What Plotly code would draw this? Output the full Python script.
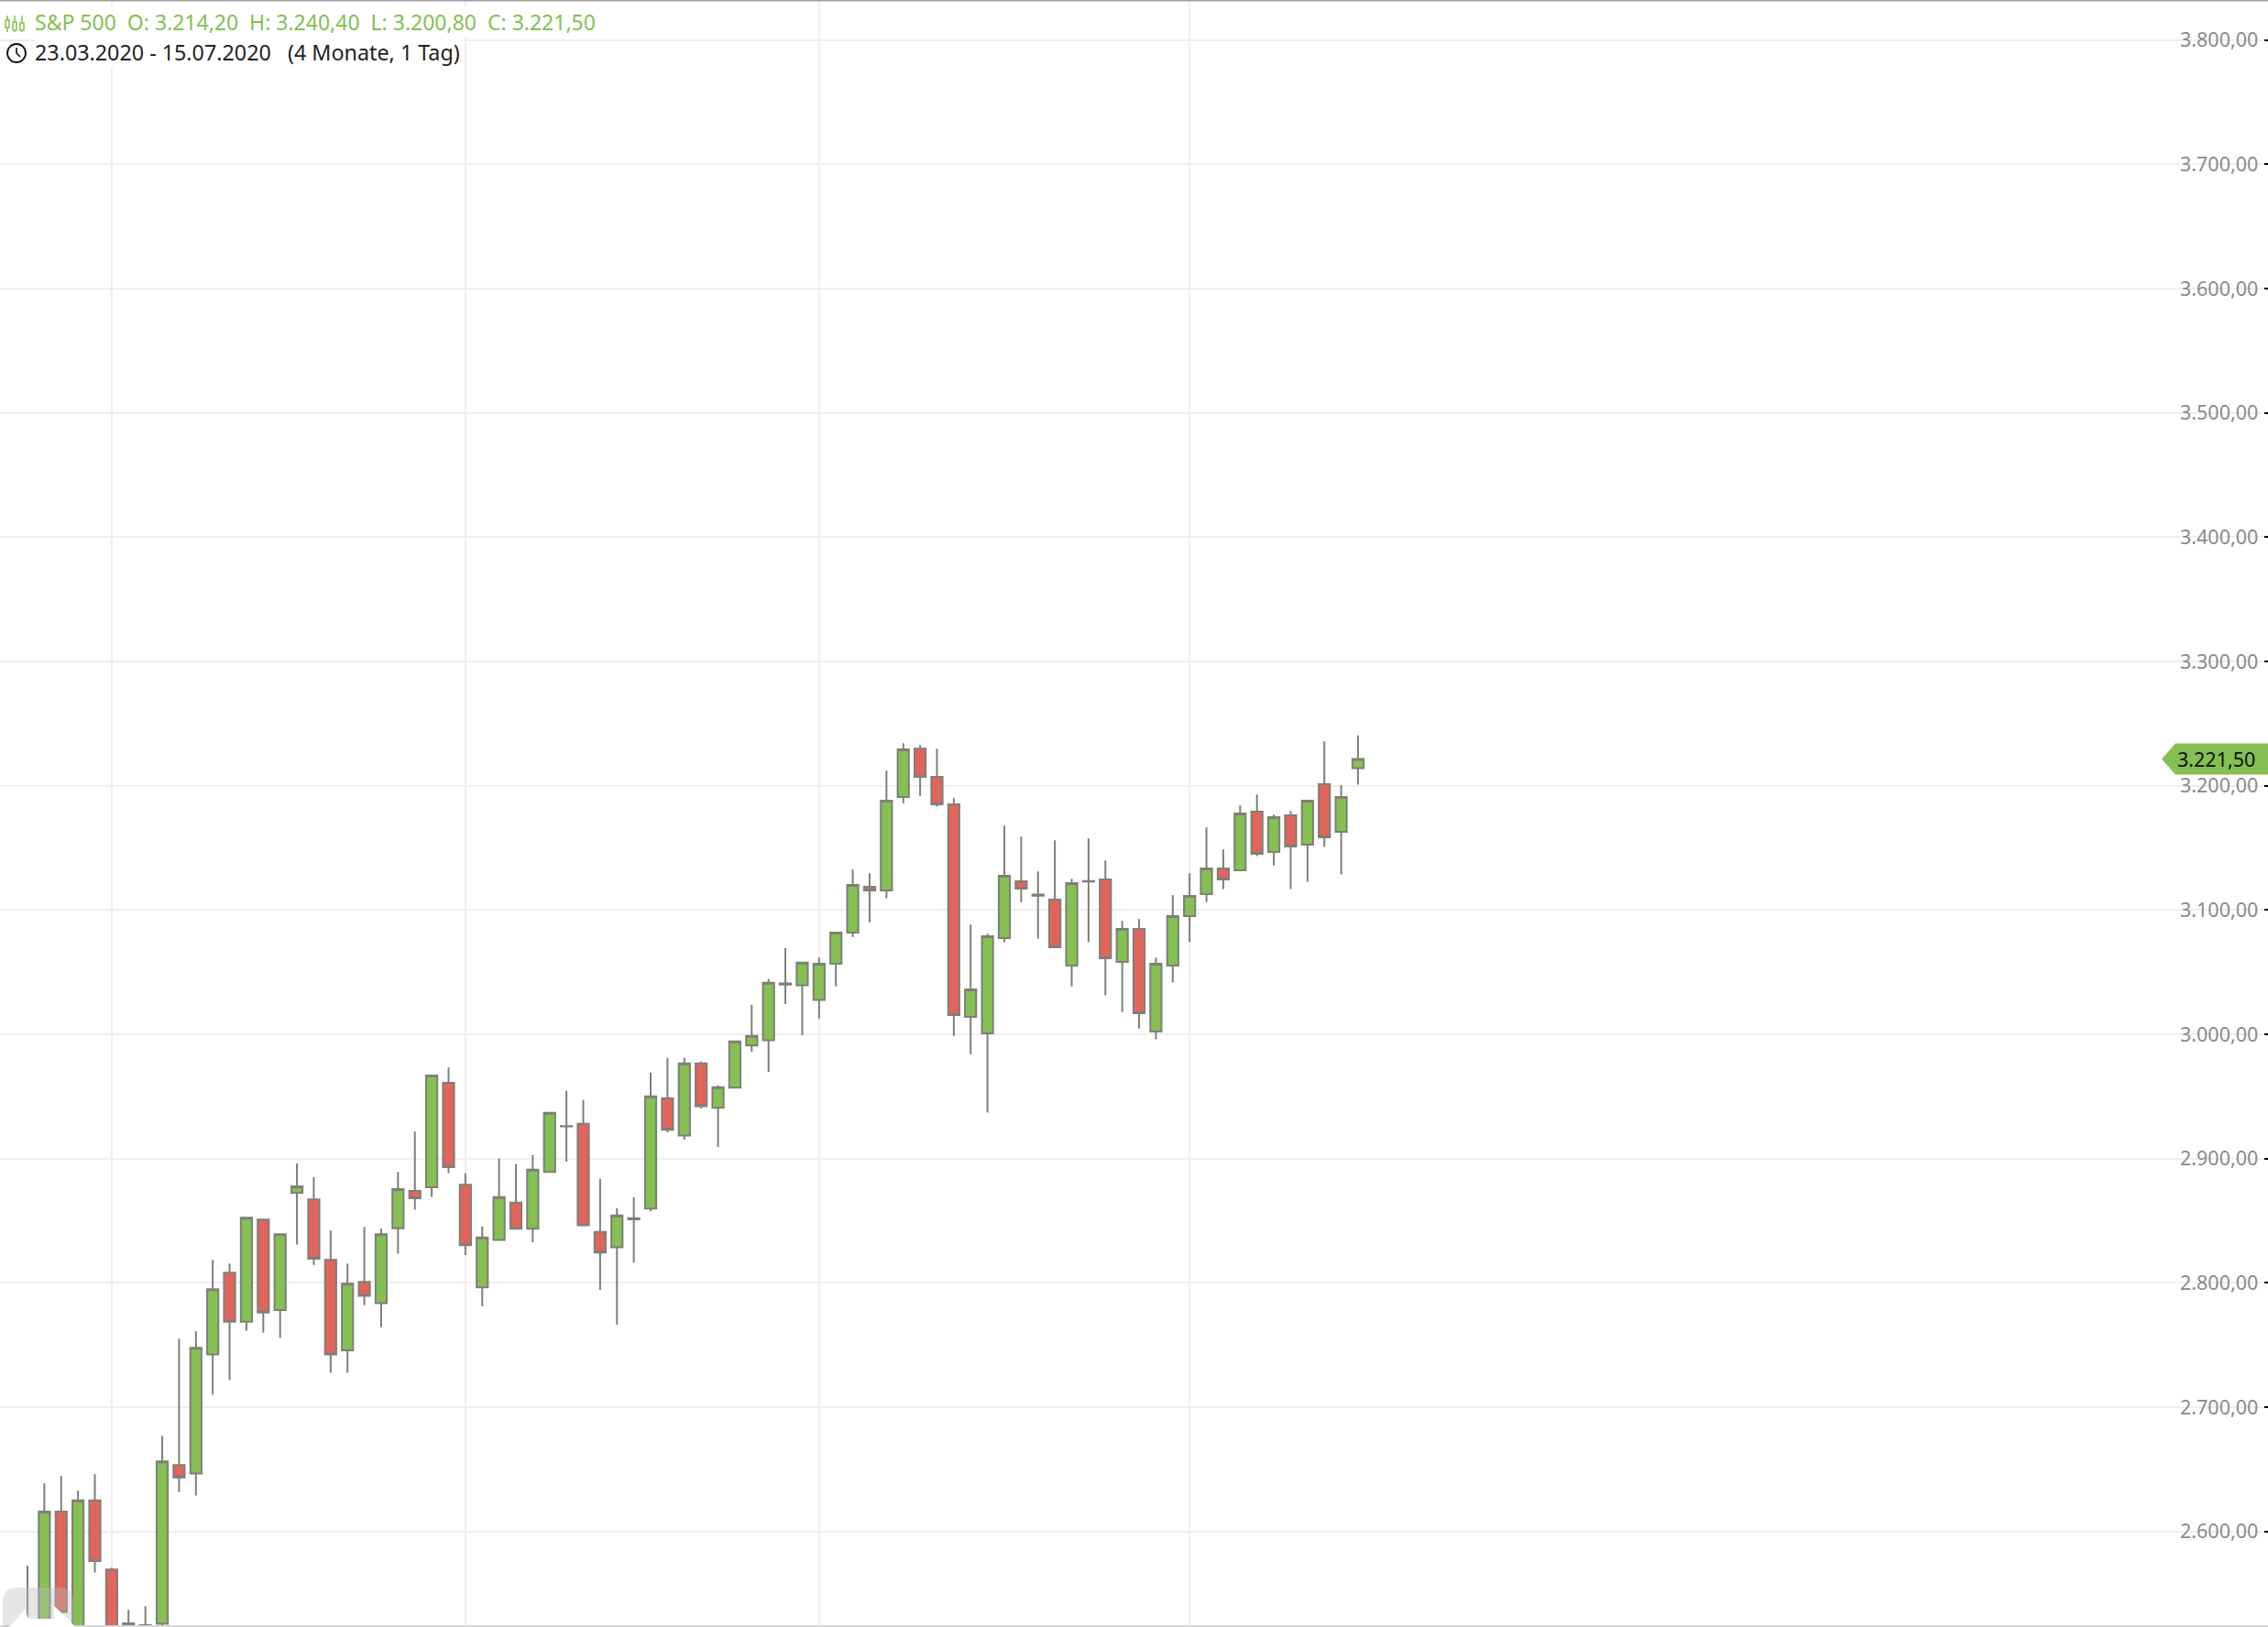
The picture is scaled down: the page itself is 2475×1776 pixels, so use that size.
import plotly.graph_objects as go

opens = [2457,2501,2616,2515,2625,2569.3,2490,2505,2525.6,2653.4,2646.5,2742.3,2808.2,2768.8,2850.9,2778.2,
 2872.5,2867.1,2818.5,2745.7,2800.8,2783.6,2844,2874,2877,2961,2878.9,2796.3,2834.6,2864.6,2843.5,2889.2,
 2925.9,2928,2841,2828.7,2851.1,2859.7,2948.6,2918.6,2976.6,2940.8,2957,2990.9,2995.3,3040,3039.5,3027.7,
 3056.8,3081.9,3118.7,3115.8,3191,3229.8,3207.2,3185.1,3014,3000.8,3077.4,3123.1,3111.5,3108.4,3055.3,3123,
 3124.6,3058.3,3084.8,3002.3,3055.3,3095.1,3112.8,3133.5,3132,3179.2,3146.7,3176.2,3152.6,3201.3,3163,3214.2]
highs = [2572.3,2638.6,2644.5,2632.7,2646,2570.8,2536.9,2539.8,2677,2755.1,2761,2818.5,2815.5,2852.4,2850.9,2839.1,
 2896,2885,2842,2815.5,2845,2843.5,2889.3,2921.7,2967.5,2973.3,2888.2,2845.4,2900,2895.5,2902.9,2936.8,
 2954.5,2947.2,2883.8,2860.2,2869,2969.3,2981,2981,2978.1,2959,2994.3,3023.8,3044.4,3069.3,3057.7,3061.7,
 3081.9,3132.5,3129.5,3212.1,3234.2,3232.7,3229.8,3190,3088.3,3080.9,3167.9,3159,3131,3156.1,3125.1,3157.5,
 3139.9,3091.2,3092.7,3061.7,3111.8,3129.5,3166.4,3148.7,3184.1,3192.9,3176.7,3179.7,3188,3235.7,3200.3,3240.4]
lows = [2407,2500,2525,2510,2566.9,2460,2485,2500,2520,2631.7,2628.8,2709.9,2721.7,2761.5,2760,2755.6,
 2830.8,2814.5,2727.6,2727.6,2782.1,2764.4,2823.4,2858.8,2869.1,2888.3,2822.3,2781,2834.6,2843.5,2832.7,2889.2,
 2897.5,2846.4,2794.3,2766.3,2816.4,2857.7,2921.1,2915.2,2940.3,2909.3,2957,2986,2969.8,3024.3,2999.2,3012.5,
 3038.6,3078.4,3090.2,3109.4,3186,3191.9,3183.1,2998.8,2984,2936.9,3074,3106.4,3077,3070.1,3038.6,3074,
 3031.3,3018,3004.7,2995.9,3041.6,3074,3106.4,3116.8,3132,3143.3,3135.9,3116.8,3122.7,3150.7,3128.6,3200.8]
closes = [2475,2616,2535,2625,2576.2,2470,2526,2524.6,2656.3,2643.5,2747.7,2794.9,2768.8,2852.4,2776.2,2839.1,
 2877.7,2819.5,2742.3,2799.3,2789.5,2839.1,2875.5,2868.1,2966.9,2893.2,2830.2,2836.6,2869,2843.5,2891.1,2936.8,
 2926.1,2846.4,2824.3,2854.3,2852.1,2950.1,2923.1,2976.6,2942.2,2957.5,2994.3,2998.7,3041.5,3041,3057.7,3056.8,
 3081.9,3120.2,3115.8,3188,3229.3,3207.2,3185.1,3015.5,3036.2,3078.9,3127.6,3117.2,3112.5,3070.1,3121.7,3123.2,
 3061.2,3084.8,3017,3056.8,3095.1,3111.4,3133.5,3124.6,3177.7,3145.3,3174.7,3151.2,3188,3158.5,3191,3221.5]
sessions = list(range(len(opens)))
month_starts = [5, 26, 47, 69]

header_name = "S&amp;P 500"
header_ohlc = ["O: 3.214,20", "H: 3.240,40", "L: 3.200,80", "C: 3.221,50"]
header_period = "23.03.2020 - 15.07.2020\u00a0\u00a0\u00a0(4 Monate, 1 Tag)"
last_label = "3.221,50"

W, H = 2475, 1776
GREEN, RED, EDGE = "#84c052", "#e1655b", "#7f7f79"
FONT = "Noto Sans"

def px(x): return x / W
def py(y): return 1 - y / H

fig = go.Figure(go.Candlestick(
    x=sessions, open=opens, high=highs, low=lows, close=closes,
    increasing=dict(fillcolor=GREEN, line=dict(color=EDGE, width=2)),
    decreasing=dict(fillcolor=RED, line=dict(color=EDGE, width=2)),
    whiskerwidth=0, showlegend=False, hoverinfo="skip"))

shapes = [
    dict(type="rect", xref="paper", yref="paper", x0=px(2377), x1=px(2463), y0=0, y1=1,
         fillcolor="white", line_width=0, layer="below"),
    dict(type="line", xref="paper", yref="paper", x0=0, x1=1, y0=py(0.5), y1=py(0.5),
         line=dict(color="#a0a0a0", width=2)),
    dict(type="line", xref="paper", yref="paper", x0=0, x1=1, y0=py(1775), y1=py(1775),
         line=dict(color="#d8d8d8", width=2)),
    dict(type="path", xref="paper", yref="y", xsizemode="pixel", ysizemode="pixel",
         xanchor=1, yanchor=closes[-1], path="M -116 0 L -101 -17 L 0 -17 L 0 17 L -101 17 Z",
         fillcolor=GREEN, line_width=0, layer="above"),
]

def pix_path(points):
    return "M " + " L ".join(f"{px(x):.5f} {py(y):.5f}" for x, y in points) + " Z"

shapes += [
    dict(type="path", xref="paper", yref="paper",
         path=pix_path([(3, 1776), (3, 1745), (7, 1736), (15, 1733), (70, 1733), (78, 1738), (80, 1746), (80, 1776)]),
         fillcolor="rgba(190,190,190,0.38)", line_width=0, layer="above"),
    dict(type="path", xref="paper", yref="paper",
         path=pix_path([(10, 1776), (27, 1757), (31, 1767), (59, 1767), (59, 1753), (74, 1767), (82, 1776)]),
         fillcolor="white", line_width=0, layer="above"),
]

for cx, (b0, b1) in zip((8, 16, 24), ((22, 30), (24, 33), (25, 33))):
    shapes += [
        dict(type="line", xref="paper", yref="paper", x0=px(cx), x1=px(cx), y0=py(17), y1=py(35),
             line=dict(color=GREEN, width=1.5), layer="above"),
        dict(type="rect", xref="paper", yref="paper", x0=px(cx - 2), x1=px(cx + 2), y0=py(b0), y1=py(b1),
             fillcolor="white", line=dict(color=GREEN, width=1.5), layer="above"),
    ]
shapes += [
    dict(type="circle", xref="paper", yref="paper", x0=px(8), x1=px(28), y0=py(48), y1=py(68),
         line=dict(color="#111", width=1.8), layer="above"),
    dict(type="path", xref="paper", yref="paper",
         path=f"M {px(18):.5f} {py(52):.5f} L {px(18):.5f} {py(58):.5f} L {px(22):.5f} {py(62):.5f}",
         line=dict(color="#111", width=1.6), layer="above"),
]

sep = "\u00a0\u00a0"
annotations = [
    dict(xref="paper", yref="paper", x=px(37), y=py(24.5), xanchor="left", yanchor="middle", showarrow=False,
         text=header_name + sep + sep.join(header_ohlc), font=dict(family=FONT, size=23, color=GREEN),
         bgcolor="white", borderpad=0),
    dict(xref="paper", yref="paper", x=px(37), y=py(56.5), xanchor="left", yanchor="middle", showarrow=False,
         text=header_period, font=dict(family=FONT, size=23.3, color="#222222"),
         bgcolor="white", borderpad=0),
    dict(xref="paper", yref="y", x=px(2462), y=closes[-1], xanchor="right", yanchor="middle", showarrow=False,
         text=last_label, font=dict(family=FONT, size=21.5, color="#111111"), borderpad=0),
]

fig.update_layout(
    width=W, height=H, margin=dict(l=0, r=0, t=0, b=0),
    paper_bgcolor="white", plot_bgcolor="white", separators=",.",
    showlegend=False, boxgap=0.05,
    shapes=shapes, annotations=annotations,
    xaxis=dict(range=[-1.632, 133.03], rangeslider_visible=False, tickmode="array", tickvals=month_starts,
               showticklabels=False, ticks="", showgrid=True, gridcolor="#efefef", gridwidth=2, zeroline=False),
    yaxis=dict(range=[2523.1, 3832.2], side="right", tick0=2600, dtick=100, tickformat=",.2f",
               ticklabelposition="inside", ticklabelstandoff=8, ticks="inside", ticklen=4, tickwidth=1.5,
               tickcolor="#000000", tickfont=dict(family=FONT, size=21.5, color="#8a8a8a"),
               showgrid=True, gridcolor="#efefef", gridwidth=2, zeroline=False, showline=False),
)

fig.write_html("out.html", config={"displayModeBar": False}, post_script="document.body.style.margin='0';")
